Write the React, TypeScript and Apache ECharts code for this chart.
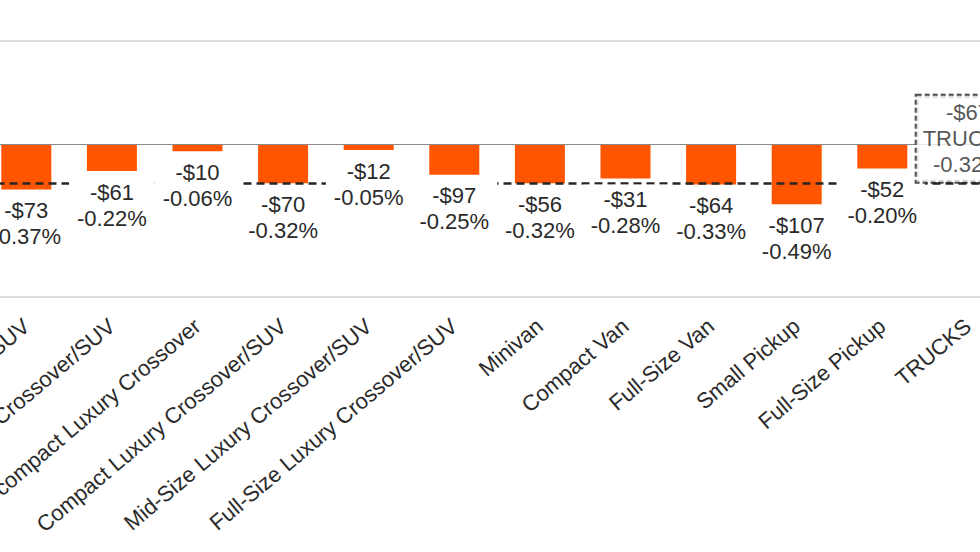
import React, { useEffect, useRef } from 'react';
import * as echarts from 'echarts';

// ---- data ----
const categories = [
  'Mid-Size Crossover/SUV',
  'Full-Size Crossover/SUV',
  'Subcompact Luxury Crossover',
  'Compact Luxury Crossover/SUV',
  'Mid-Size Luxury Crossover/SUV',
  'Full-Size Luxury Crossover/SUV',
  'Minivan',
  'Compact Van',
  'Full-Size Van',
  'Small Pickup',
  'Full-Size Pickup',
  'TRUCKS',
];
const pctChange: (number | null)[] = [-0.37, -0.22, -0.06, -0.32, -0.05, -0.25, -0.32, -0.28, -0.33, -0.49, -0.2, null];
const dollarChange: (number | null)[] = [-73, -61, -10, -70, -12, -97, -56, -31, -64, -107, -52, null];
const trucksTotalDollar = -67;
const trucksTotalPct = -0.32;
const trucksLabel = 'TRUCKS';

const fmtDollar = (v: number) => (v < 0 ? '-$' : '$') + Math.abs(v);
const fmtPct = (v: number) => v.toFixed(2) + '%';

const FONT = 'Arial, "Liberation Sans", sans-serif';
const TEXT = '#2a2a2a';
const OFF = 200; // chart canvas extends beyond the visible window (cropped look)

export default function App() {
  const ref = useRef<HTMLDivElement>(null);
  useEffect(() => {
    if (!ref.current) return;
    const chart = echarts.init(ref.current, undefined, { renderer: 'svg' });
    const option: any = {
      animation: false,
      backgroundColor: '#ffffff',
      textStyle: { fontFamily: FONT },
      grid: {
        left: OFF - 16.5,
        width: 1027.2,
        top: 41,
        height: 256,
        show: true,
        borderColor: '#dcdcdc',
        borderWidth: 2,
      },
      xAxis: {
        type: 'category',
        data: categories,
        axisLine: { show: false },
        axisTick: { show: false },
        splitLine: { show: false },
        axisLabel: {
          rotate: 40,
          margin: 26,
          interval: 0,
          fontSize: 22,
          color: TEXT,
          fontFamily: FONT,
        },
      },
      yAxis: { type: 'value', min: -1.244, max: 0.837, show: false, splitLine: { show: false } },
      series: [
        {
          type: 'bar',
          name: 'pct',
          data: pctChange,
          barWidth: 50,
          z: 2,
          itemStyle: { color: '#ff5500' },
          markLine: {
            silent: true,
            symbol: 'none',
            z: 5,
            label: { show: false },
            data: [
              { yAxis: 0, lineStyle: { color: '#8a8a8a', width: 1, type: 'solid' } },
              { yAxis: trucksTotalPct, lineStyle: { color: '#262626', width: 2.5, type: [8, 5] } },
            ],
          },
        },
        {
          type: 'bar',
          name: 'labels',
          data: pctChange,
          barWidth: 50,
          barGap: '-100%',
          z: 20,
          itemStyle: { color: 'rgba(0,0,0,0)' },
          label: {
            show: true,
            position: 'bottom',
            distance: 6,
            formatter: (p: any) => fmtDollar(dollarChange[p.dataIndex] as number) + '\n' + fmtPct(p.value),
            fontSize: 22,
            lineHeight: 26,
            fontFamily: FONT,
            color: TEXT,
            backgroundColor: '#ffffff',
            padding: [2, 8],
          },
        },
        {
          type: 'scatter',
          name: 'trucks',
          data: [[categories.length - 1, trucksTotalPct]],
          symbol: 'circle',
          symbolSize: 1,
          z: 21,
          itemStyle: { color: 'rgba(0,0,0,0)' },
          label: {
            show: true,
            position: 'top',
            distance: 1,
            formatter: () => fmtDollar(trucksTotalDollar) + '\n' + trucksLabel + '\n' + fmtPct(trucksTotalPct),
            fontSize: 22,
            lineHeight: 26,
            fontFamily: FONT,
            color: TEXT,
            align: 'center',
            backgroundColor: '#ffffff',
            borderColor: '#222222',
            borderWidth: 2,
            borderType: [5, 3],
            padding: [4, 6],
          },
        },
      ],
    };
    chart.setOption(option);
    return () => chart.dispose();
  }, []);

  return (
    <div
      style={{
        position: 'fixed',
        left: 0,
        top: 0,
        width: 980,
        height: 552,
        overflow: 'hidden',
        background: '#ffffff',
      }}
    >
      <div ref={ref} style={{ position: 'absolute', left: -OFF, top: 0, width: 980 + 2 * OFF, height: 552 }} />
    </div>
  );
}
